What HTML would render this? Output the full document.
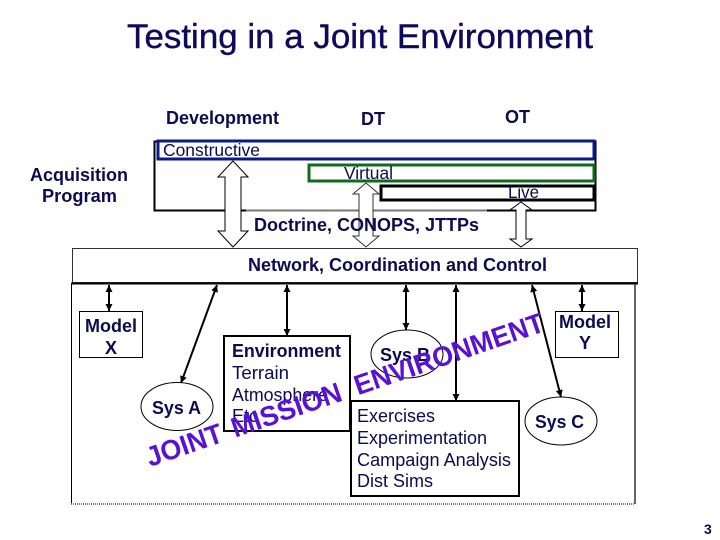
<!DOCTYPE html>
<html><head><meta charset="utf-8"><style>
html,body{margin:0;padding:0;background:#fff}
svg{display:block}
text{font-family:"Liberation Sans",sans-serif;fill:#0b0b50}
.b{font-weight:bold}
</style></head><body>
<svg width="720" height="540" viewBox="0 0 720 540" xmlns="http://www.w3.org/2000/svg">
<defs>
<marker id="a" markerWidth="8" markerHeight="8" refX="7" refY="3.5" orient="auto-start-reverse" markerUnits="userSpaceOnUse"><path d="M0 0L7 3.5L0 7Z" fill="#000"/></marker>
</defs>
<text x="127" y="48" font-size="34.6" textLength="466" lengthAdjust="spacingAndGlyphs" style="fill:#10085a;stroke:#10085a;stroke-width:.4">Testing in a Joint Environment</text>
<text class="b" x="166" y="124" font-size="18" textLength="113" lengthAdjust="spacingAndGlyphs">Development</text>
<text class="b" x="361" y="125" font-size="18" textLength="24" lengthAdjust="spacingAndGlyphs">DT</text>
<text class="b" x="505" y="123" font-size="18" textLength="25" lengthAdjust="spacingAndGlyphs">OT</text>

<rect x="154.5" y="141.5" width="441" height="69" fill="#fff" stroke="#000" stroke-width="2"/>
<path d="M246 210.5H487" stroke="#777" stroke-width="2"/>
<rect x="158" y="141" width="436" height="18" fill="#fff" stroke="#0a1a8c" stroke-width="3"/>
<text x="163" y="156" font-size="17.5" textLength="97" lengthAdjust="spacingAndGlyphs">Constructive</text>
<rect x="309" y="165" width="285" height="16" fill="#fff" stroke="#0f6a1a" stroke-width="3"/>
<text x="344" y="179" font-size="17.5" textLength="49" lengthAdjust="spacingAndGlyphs">Virtual</text>
<rect x="381" y="186" width="213" height="14" fill="#fff" stroke="#000" stroke-width="3"/>
<text x="508" y="198" font-size="17.5" textLength="31" lengthAdjust="spacingAndGlyphs">Live</text>

<text class="b" x="30" y="181" font-size="18" textLength="98" lengthAdjust="spacingAndGlyphs">Acquisition</text>
<text class="b" x="42" y="202" font-size="18" textLength="75" lengthAdjust="spacingAndGlyphs">Program</text>

<rect x="72.5" y="248.5" width="565" height="34" fill="#fff" stroke="#333" stroke-width="1"/>
<path d="M71 283.5H638" stroke="#000" stroke-width="2"/>
<path d="M71.5 283V503" stroke="#000" stroke-width="1"/>
<path d="M635 283V504" stroke="#000" stroke-width="1.2"/>
<path d="M71 504H635" stroke="#000" stroke-width="1" stroke-dasharray="1 1"/>

<path d="M233 161L248 177H241V231H248L233 247L218 231H225V177H218Z" fill="#fff" stroke="#000"/>
<path d="M366 183L379 194H373V236H379L366 247L353 236H359V194H353Z" fill="#fff" stroke="#333"/>
<path d="M521 202L532 210H526V239H532L521 247L510 239H516V210H510Z" fill="#fff" stroke="#000"/>
<text class="b" x="254" y="231" font-size="18" textLength="225" lengthAdjust="spacingAndGlyphs">Doctrine, CONOPS, JTTPs</text>
<text class="b" x="248" y="271" font-size="18" textLength="299" lengthAdjust="spacingAndGlyphs">Network, Coordination and Control</text>

<g stroke="#000" stroke-width="2" fill="none">
<path d="M109 285V311" marker-start="url(#a)" marker-end="url(#a)"/>
<path d="M217 285L181 383" marker-start="url(#a)" marker-end="url(#a)"/>
<path d="M287 285V336" marker-start="url(#a)" marker-end="url(#a)"/>
<path d="M406 285V330" marker-start="url(#a)" marker-end="url(#a)"/>
<path d="M456 285V401" marker-start="url(#a)" marker-end="url(#a)"/>
<path d="M532 285L561 397" marker-start="url(#a)" marker-end="url(#a)"/>
<path d="M582 285V311" marker-start="url(#a)" marker-end="url(#a)"/>
</g>

<rect x="79.5" y="311.5" width="63" height="46" fill="#fff" stroke="#000"/>
<text class="b" x="85" y="332" font-size="18" textLength="52" lengthAdjust="spacingAndGlyphs">Model</text>
<text class="b" x="105" y="354" font-size="18">X</text>
<rect x="555.5" y="311.5" width="63" height="46" fill="#fff" stroke="#000"/>
<text class="b" x="559" y="328" font-size="18" textLength="52" lengthAdjust="spacingAndGlyphs">Model</text>
<text class="b" x="579" y="349" font-size="18">Y</text>

<ellipse cx="177" cy="406.5" rx="36" ry="24" fill="#fff" stroke="#000"/>
<text class="b" x="152" y="414" font-size="18" textLength="49" lengthAdjust="spacingAndGlyphs">Sys A</text>
<ellipse cx="407" cy="354" rx="36" ry="24" fill="#fff" stroke="#000"/>
<text class="b" x="380" y="361" font-size="18" textLength="50" lengthAdjust="spacingAndGlyphs">Sys B</text>
<ellipse cx="561" cy="421" rx="36" ry="24" fill="#fff" stroke="#000"/>
<text class="b" x="535" y="428" font-size="18" textLength="49" lengthAdjust="spacingAndGlyphs">Sys C</text>

<rect x="224" y="336" width="126" height="95" fill="#fff" stroke="#000" stroke-width="2"/>
<text class="b" x="232" y="357" font-size="18" textLength="109" lengthAdjust="spacingAndGlyphs">Environment</text>
<text x="232" y="379" font-size="18" textLength="57" lengthAdjust="spacingAndGlyphs">Terrain</text>
<text x="232" y="401" font-size="18" textLength="96" lengthAdjust="spacingAndGlyphs">Atmosphere</text>
<text x="232" y="422" font-size="18">Etc</text>

<rect x="351" y="401" width="168" height="95" fill="#fff" stroke="#000" stroke-width="2"/>
<text x="357" y="422" font-size="18" textLength="78" lengthAdjust="spacingAndGlyphs">Exercises</text>
<text x="357" y="444" font-size="18" textLength="130" lengthAdjust="spacingAndGlyphs">Experimentation</text>
<text x="357" y="466" font-size="18" textLength="154" lengthAdjust="spacingAndGlyphs">Campaign Analysis</text>
<text x="357" y="487" font-size="18" textLength="76" lengthAdjust="spacingAndGlyphs">Dist Sims</text>

<g transform="translate(150 467) rotate(-19)" font-size="28" style="font-weight:bold">
<text x="0" y="0" textLength="79" lengthAdjust="spacingAndGlyphs" style="fill:#5a12d2">JOINT</text>
<text x="90" y="0" textLength="115" lengthAdjust="spacingAndGlyphs" style="fill:#5a12d2">MISSION</text>
<text x="220" y="0" textLength="199" lengthAdjust="spacingAndGlyphs" style="fill:#5a12d2">ENVIRONMENT</text>
</g>
<text class="b" x="704" y="534" font-size="14">3</text>
</svg>
</body></html>
